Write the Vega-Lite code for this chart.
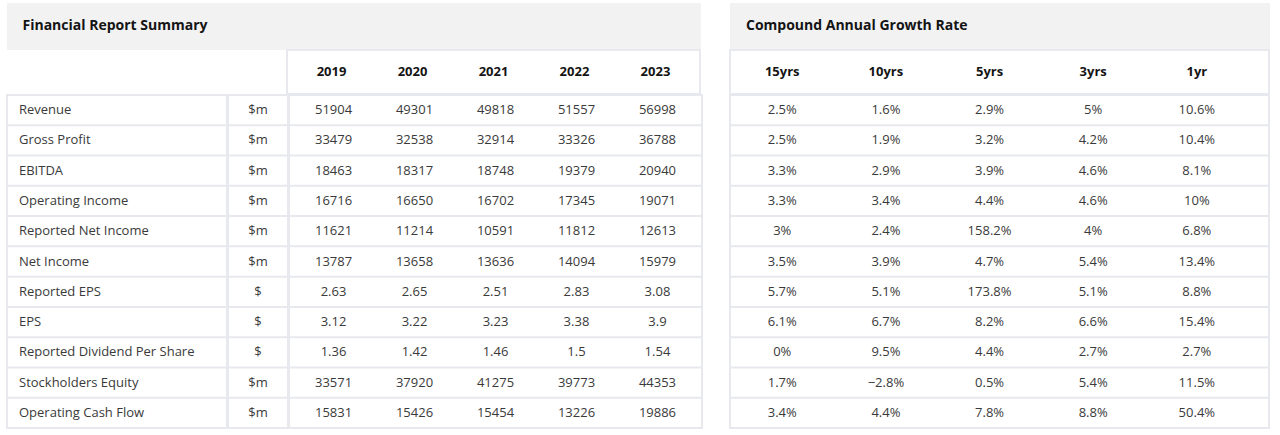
{
  "$schema": "https://vega.github.io/schema/vega-lite/v6.json",
  "padding": {"left": 6, "top": 2, "right": 0, "bottom": 0},
  "spacing": 26,
  "config": {
    "view": {"stroke": "#e8e9ee", "strokeWidth": 2},
    "font": "Open Sans",
    "text": {"font": "Open Sans", "fontSize": 13, "color": "#3a3a3a"},
    "rule": {"color": "#e8e9ee", "strokeWidth": 2},
    "scale": {"bandPaddingInner": 0, "bandPaddingOuter": 0}
  },
  "datasets": {
    "table": [
      {"metric": "Revenue", "unit": "$m", "2019": 51904, "2020": 49301, "2021": 49818, "2022": 51557, "2023": 56998, "15yrs": 0.025, "10yrs": 0.016, "5yrs": 0.029, "3yrs": 0.05, "1yr": 0.106},
      {"metric": "Gross Profit", "unit": "$m", "2019": 33479, "2020": 32538, "2021": 32914, "2022": 33326, "2023": 36788, "15yrs": 0.025, "10yrs": 0.019, "5yrs": 0.032, "3yrs": 0.042, "1yr": 0.104},
      {"metric": "EBITDA", "unit": "$m", "2019": 18463, "2020": 18317, "2021": 18748, "2022": 19379, "2023": 20940, "15yrs": 0.033, "10yrs": 0.029, "5yrs": 0.039, "3yrs": 0.046, "1yr": 0.081},
      {"metric": "Operating Income", "unit": "$m", "2019": 16716, "2020": 16650, "2021": 16702, "2022": 17345, "2023": 19071, "15yrs": 0.033, "10yrs": 0.034, "5yrs": 0.044, "3yrs": 0.046, "1yr": 0.1},
      {"metric": "Reported Net Income", "unit": "$m", "2019": 11621, "2020": 11214, "2021": 10591, "2022": 11812, "2023": 12613, "15yrs": 0.03, "10yrs": 0.024, "5yrs": 1.582, "3yrs": 0.04, "1yr": 0.068},
      {"metric": "Net Income", "unit": "$m", "2019": 13787, "2020": 13658, "2021": 13636, "2022": 14094, "2023": 15979, "15yrs": 0.035, "10yrs": 0.039, "5yrs": 0.047, "3yrs": 0.054, "1yr": 0.134},
      {"metric": "Reported EPS", "unit": "$", "2019": 2.63, "2020": 2.65, "2021": 2.51, "2022": 2.83, "2023": 3.08, "15yrs": 0.057, "10yrs": 0.051, "5yrs": 1.738, "3yrs": 0.051, "1yr": 0.088},
      {"metric": "EPS", "unit": "$", "2019": 3.12, "2020": 3.22, "2021": 3.23, "2022": 3.38, "2023": 3.9, "15yrs": 0.061, "10yrs": 0.067, "5yrs": 0.082, "3yrs": 0.066, "1yr": 0.154},
      {"metric": "Reported Dividend Per Share", "unit": "$", "2019": 1.36, "2020": 1.42, "2021": 1.46, "2022": 1.5, "2023": 1.54, "15yrs": 0, "10yrs": 0.095, "5yrs": 0.044, "3yrs": 0.027, "1yr": 0.027},
      {"metric": "Stockholders Equity", "unit": "$m", "2019": 33571, "2020": 37920, "2021": 41275, "2022": 39773, "2023": 44353, "15yrs": 0.017, "10yrs": -0.028, "5yrs": 0.005, "3yrs": 0.054, "1yr": 0.115},
      {"metric": "Operating Cash Flow", "unit": "$m", "2019": 15831, "2020": 15426, "2021": 15454, "2022": 13226, "2023": 19886, "15yrs": 0.034, "10yrs": 0.044, "5yrs": 0.078, "3yrs": 0.088, "1yr": 0.504}
    ]
  },
  "hconcat": [
    {
      "spacing": -4,
      "vconcat": [
        {
          "width": 693, "height": 46,
          "view": {"fill": "#f2f2f2", "stroke": "#f2f2f2"},
          "data": {"values": [{"title": "Financial Report Summary"}]},
          "mark": {"type": "text", "align": "left", "baseline": "middle", "dx": -331, "fontSize": 14, "fontWeight": "bold", "color": "#141414"},
          "encoding": {
            "text": {"field": "title"}
          }
        },
        {
          "spacing": -4,
          "hconcat": [
            {"width": 220, "height": 44, "data": {"values": [{"t": ""}]}, "mark": "text", "encoding": {"text": {"field": "t"}}},
            {"width": 60, "height": 44, "data": {"values": [{"t": ""}]}, "mark": "text", "encoding": {"text": {"field": "t"}}},
            {
              "width": 413, "height": 44,
              "data": {"values": [{"year": "2019"}, {"year": "2020"}, {"year": "2021"}, {"year": "2022"}, {"year": "2023"}]},
              "mark": {"type": "text", "fontWeight": "bold", "color": "#141414", "baseline": "middle"},
              "encoding": {
                "x": {"field": "year", "type": "nominal", "sort": null, "axis": null, "scale": {"type": "point", "padding": 0.55}},
                "text": {"field": "year"}
              }
            }
          ]
        },
        {
          "spacing": -4,
          "hconcat": [
            {
              "width": 220, "height": 333,
              "data": {"name": "table"},
              "layer": [
                {"mark": {"type": "rule", "clip": true}, "encoding": {"y": {"field": "metric", "type": "nominal", "sort": null, "bandPosition": 0, "axis": null}}},
                {"mark": {"type": "text", "align": "left", "baseline": "middle", "dx": -98}, "encoding": {"y": {"field": "metric", "type": "nominal", "sort": null, "axis": null}, "text": {"field": "metric"}}}
              ]
            },
            {
              "width": 60, "height": 333,
              "data": {"name": "table"},
              "layer": [
                {"mark": {"type": "rule", "clip": true}, "encoding": {"y": {"field": "metric", "type": "nominal", "sort": null, "bandPosition": 0, "axis": null}}},
                {"mark": {"type": "text", "baseline": "middle"}, "encoding": {"y": {"field": "metric", "type": "nominal", "sort": null, "axis": null}, "text": {"field": "unit"}}}
              ]
            },
            {
              "width": 413, "height": 333,
              "data": {"name": "table"},
              "layer": [
                {"mark": {"type": "rule", "clip": true}, "encoding": {"y": {"field": "metric", "type": "nominal", "sort": null, "bandPosition": 0, "axis": null}}},
                {
                  "transform": [{"fold": ["2019", "2020", "2021", "2022", "2023"], "as": ["year", "value"]}],
                  "mark": {"type": "text", "baseline": "middle"},
                  "encoding": {
                    "y": {"field": "metric", "type": "nominal", "sort": null, "axis": null},
                    "x": {"field": "year", "type": "nominal", "sort": null, "axis": null, "scale": {"type": "point", "padding": 0.55}},
                    "text": {"field": "value", "type": "nominal"}
                  }
                }
              ]
            }
          ]
        }
      ]
    },
    {
      "spacing": -4,
      "vconcat": [
        {
          "width": 539, "height": 46,
          "view": {"fill": "#f2f2f2", "stroke": "#f2f2f2"},
          "data": {"values": [{"title": "Compound Annual Growth Rate"}]},
          "mark": {"type": "text", "align": "left", "baseline": "middle", "dx": -253.5, "fontSize": 14, "fontWeight": "bold", "color": "#141414"},
          "encoding": {
            "text": {"field": "title"}
          }
        },
        {
          "width": 539, "height": 44,
          "data": {"values": [{"period": "15yrs"}, {"period": "10yrs"}, {"period": "5yrs"}, {"period": "3yrs"}, {"period": "1yr"}]},
          "mark": {"type": "text", "fontWeight": "bold", "color": "#141414", "baseline": "middle"},
          "encoding": {
            "x": {"field": "period", "type": "nominal", "sort": null, "axis": null, "scale": {"type": "point", "padding": 0.6, "align": 0.42}},
            "text": {"field": "period"}
          }
        },
        {
          "width": 539, "height": 333,
          "data": {"name": "table"},
          "layer": [
            {"mark": {"type": "rule", "clip": true}, "encoding": {"y": {"field": "metric", "type": "nominal", "sort": null, "bandPosition": 0, "axis": null}}},
            {
              "transform": [{"fold": ["15yrs", "10yrs", "5yrs", "3yrs", "1yr"], "as": ["period", "rate"]}],
              "mark": {"type": "text", "baseline": "middle"},
              "encoding": {
                "y": {"field": "metric", "type": "nominal", "sort": null, "axis": null},
                "x": {"field": "period", "type": "nominal", "sort": null, "axis": null, "scale": {"type": "point", "padding": 0.6, "align": 0.42}},
                "text": {"field": "rate", "type": "quantitative", "format": ".1~%"}
              }
            }
          ]
        }
      ]
    }
  ]
}
